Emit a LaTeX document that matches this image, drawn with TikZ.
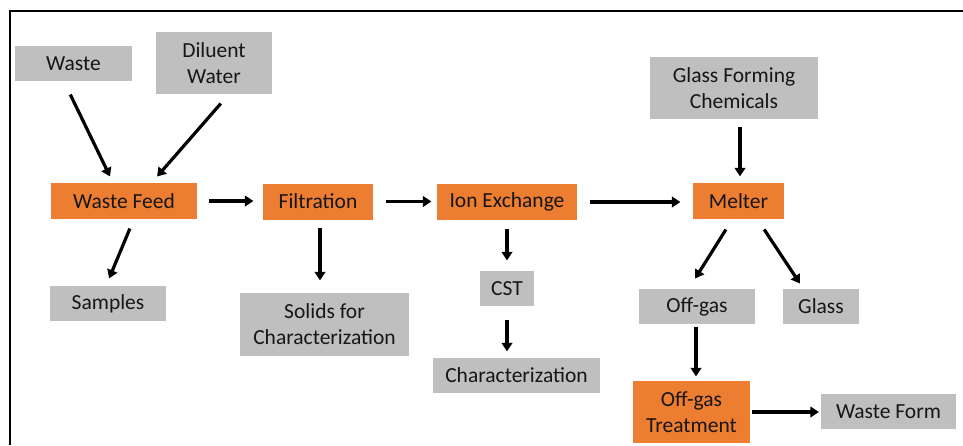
\documentclass[tikz,border=0pt]{standalone}
\usepackage{fontspec}
\setmainfont{Carlito}
\usetikzlibrary{arrows.meta}
\definecolor{procorange}{RGB}{237,125,49}
\definecolor{itemgray}{RGB}{191,191,191}
\definecolor{labeltext}{RGB}{22,22,22}

\begin{document}
\begin{tikzpicture}[x=1pt, y=-1pt, -{Triangle[length=8.5pt,width=10.5pt]}, line width=3.2pt,
    every node/.style={font=\fontsize{21.5}{26}\selectfont, text=labeltext, inner sep=0pt, align=center}]
    \tikzset{proc/.style={fill=procorange, minimum height=36pt},
             item/.style={fill=itemgray, minimum height=35pt}};
    \useasboundingbox (0,0) rectangle (963,445);
    \draw[-, line width=1.4pt] (10,445) -- (10,11) -- (963,11);
    % feed line
    \node[item, minimum width=117pt] (nWaste) at (73.5,63.5) {Waste};
    \node[item, minimum width=116pt, minimum height=62pt] (nDiluent) at (214,63) {Diluent\\Water};
    \node[proc, minimum width=146pt] (nFeed) at (124,201) {Waste Feed};
    \node[item, minimum width=116pt] (nSamples) at (108,303.5) {Samples};
    \node[proc, minimum width=110pt] (nFilter) at (318,201.5) {Filtration};
    \node[item, minimum width=169pt, minimum height=63pt] (nSolids) at (324.5,324.5) {Solids for\\Characterization};
    \node[proc, minimum width=140pt] (nIon) at (507,202) {Ion Exchange};
    \node[item, minimum width=54pt] (nCST) at (507,288.5) {CST};
    \node[item, minimum width=167pt] (nChar) at (516.5,375.5) {Characterization};
    % melter and off-gas
    \node[item, minimum width=168pt, minimum height=62pt] (nGlassChem) at (734,88) {Glass Forming\\Chemicals};
    \node[proc, minimum width=91pt] (nMelter) at (738.5,201) {Melter};
    \node[item, minimum width=116pt] (nOffgas) at (697,306.5) {Off-gas};
    \node[item, minimum width=76pt] (nGlass) at (821,306.5) {Glass};
    \node[proc, minimum width=117pt, minimum height=62pt] (nTreat) at (691.5,412) {Off-gas\\Treatment};
    \node[item, minimum width=135pt] (nForm) at (888.5,411.5) {Waste Form};
    {
       \path
        ([xshift=-9pt]nWaste.south) edge[shorten <=13.3pt, shorten >=5.5pt] ([xshift=-11.6pt]nFeed.north)
        ([xshift=13.7pt]nDiluent.south) edge[shorten <=10.5pt, shorten >=6.5pt] ([xshift=28.8pt]nFeed.north)
        ([xshift=9.2pt]nFeed.south) edge[shorten <=8.6pt, shorten >=6.5pt] ([xshift=-1.4pt]nSamples.north)
        (nFeed.east) edge[shorten <=10pt, shorten >=8pt] (nFeed.east -| nFilter.west)
        ([xshift=2pt]nFilter.south) edge[shorten <=7pt, shorten >=11pt] ([xshift=2pt]nFilter.south |- nSolids.north)
        (nFilter.east) edge[shorten <=11pt, shorten >=4pt] (nFilter.east -| nIon.west)
        (nIon.south) edge[shorten <=7pt, shorten >=9pt] (nCST.north)
        (nCST.south) edge[shorten <=12pt, shorten >=5pt] (nCST.south |- nChar.north)
        (nIon.east) edge[shorten <=11pt, shorten >=11pt] (nIon.east -| nMelter.west)
        ([xshift=1.5pt]nMelter.north |- nGlassChem.south) edge[shorten <=6pt, shorten >=5pt] ([xshift=1.5pt]nMelter.north)
        ([xshift=-7pt]nMelter.south) edge[shorten <=10.5pt, shorten >=10.5pt] ([xshift=-7.4pt]nOffgas.north)
        ([xshift=19.8pt]nMelter.south) edge[shorten <=10.6pt, shorten >=4.7pt] ([xshift=-18.5pt]nGlass.north)
        ([xshift=-1pt]nOffgas.south) edge[shorten <=1pt, shorten >=3pt] ([xshift=-1pt]nOffgas.south |- nTreat.north)
        (nTreat.east) edge[shorten <=0.5pt, shorten >=0.5pt] (nTreat.east -| nForm.west)
        ;
      }
\end{tikzpicture}
\end{document}
